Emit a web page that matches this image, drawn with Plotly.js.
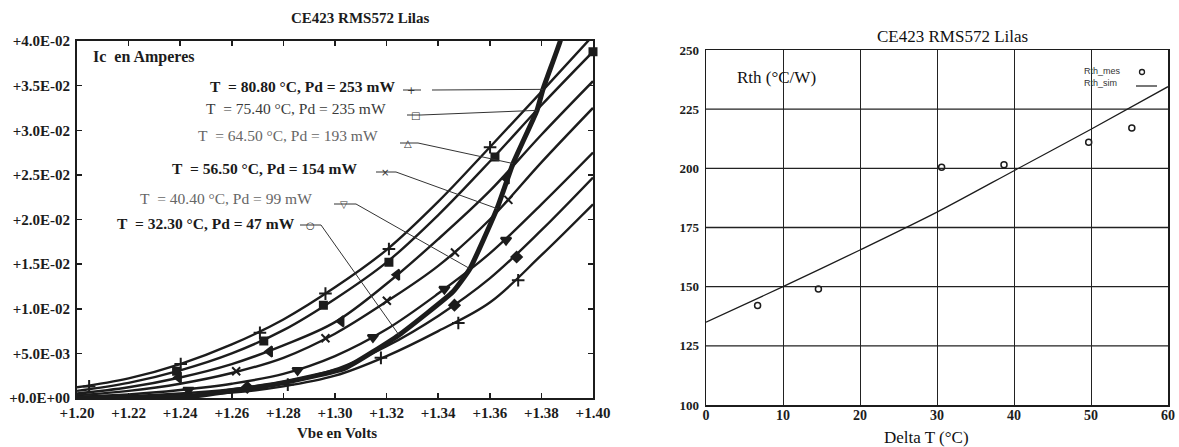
<!DOCTYPE html>
<html><head><meta charset="utf-8">
<script src="https://cdn.plot.ly/plotly-3.0.1.min.js"></script>
<style>html,body{margin:0;padding:0;background:#fff}#chart{width:1179px;height:447px}</style>
</head><body><div id="chart"></div>
<script>
// ---------------- LEFT CHART DATA (Ic vs Vbe) ----------------
const vbeGrid = [1.20, 1.22, 1.24, 1.26, 1.28, 1.30, 1.32, 1.34, 1.36, 1.38, 1.40];
const icT80 = [0.0012, 0.0022, 0.0038, 0.0060, 0.0088, 0.0124, 0.0166, 0.0220, 0.0281, 0.0343, 0.0406];
const icT75 = [0.0008, 0.0017, 0.0031, 0.0050, 0.0076, 0.0111, 0.0152, 0.0205, 0.0265, 0.0328, 0.0388];
const icT64 = [0.0005, 0.0012, 0.0023, 0.0038, 0.0059, 0.0085, 0.0128, 0.0178, 0.0232, 0.0295, 0.0355];
const icT56 = [0.0003, 0.0008, 0.0016, 0.0028, 0.0045, 0.0072, 0.0108, 0.0148, 0.0200, 0.0264, 0.0325];
const icT40 = [0.00015, 0.0004, 0.0009, 0.0016, 0.0027, 0.0047, 0.0077, 0.0117, 0.0162, 0.0217, 0.0275];
const icT32 = [0.0001, 0.0002, 0.0005, 0.0010, 0.0018, 0.0032, 0.0058, 0.0092, 0.0134, 0.0188, 0.0247];
const icTamb = [0.00005, 0.0001, 0.0003, 0.0006, 0.0013, 0.0025, 0.0047, 0.0075, 0.0107, 0.0160, 0.0217];

// marker positions along each curve
const mkT80v = [1.2047, 1.2402, 1.2709, 1.2963, 1.3209, 1.3601];
const mkT80i = [0.0013, 0.0038, 0.0073, 0.0117, 0.0167, 0.0281];
const mkT75v = [1.2386, 1.2724, 1.2955, 1.3209, 1.3620, 1.4000];
const mkT75i = [0.0030, 0.0064, 0.0104, 0.0152, 0.0270, 0.0388];
const mkT64v = [1.2394, 1.2747, 1.3024, 1.3240, 1.3665];
const mkT64i = [0.0023, 0.0052, 0.0086, 0.0138, 0.0246];
const mkT56v = [1.2617, 1.2963, 1.3201, 1.3465, 1.3672];
const mkT56i = [0.0030, 0.0067, 0.0109, 0.0163, 0.0222];
const mkT40v = [1.2432, 1.2855, 1.3147, 1.3424, 1.3663];
const mkT40i = [0.0009, 0.0031, 0.0068, 0.0122, 0.0177];
const mkT32v = [1.2660, 1.3463, 1.3704];
const mkT32i = [0.0012, 0.0104, 0.0158];
const mkTambv = [1.2817, 1.3178, 1.3478, 1.3710];
const mkTambi = [0.0015, 0.0045, 0.0084, 0.0132];

// measured (self-heating) characteristic, thick line
const vbeMeas = [1.200, 1.220, 1.2453, 1.2562, 1.2779, 1.3039, 1.3248, 1.3457, 1.3523, 1.3628, 1.3690, 1.3783, 1.3806, 1.3872, 1.3890];
const icMeas  = [0.0000, 0.00003, 0.00022, 0.00064, 0.0016, 0.00334, 0.00706, 0.0119, 0.01449, 0.02122, 0.02627, 0.03223, 0.03458, 0.0399, 0.0420];

const labelTemps = ['80.80', '75.40', '64.50', '56.50', '40.40', '32.30'];
const labelPd = ['253', '235', '193', '154', '99', '47'];
const labelMeasIdx = [12, 11, 10, 9, 8, 6];

const vbeTicks = [1.20, 1.22, 1.24, 1.26, 1.28, 1.30, 1.32, 1.34, 1.36, 1.38, 1.40];
const vbeTickText = ['+1.20', '+1.22', '+1.24', '+1.26', '+1.28', '+1.30', '+1.32', '+1.34', '+1.36', '+1.38', '+1.40'];
const icTicks = [0, 0.005, 0.010, 0.015, 0.020, 0.025, 0.030, 0.035, 0.040];
const icTickText = ['+0.0E+00', '+5.0E-03', '+1.0E-02', '+1.5E-02', '+2.0E-02', '+2.5E-02', '+3.0E-02', '+3.5E-02', '+4.0E-02'];

// ---------------- RIGHT CHART DATA (Rth vs Delta T) ----------------
const deltaTMes = [6.7, 14.6, 30.6, 38.7, 49.7, 55.3];
const rthMes = [142, 149, 200.5, 201.5, 211, 217];
const deltaTSim = [0, 10, 20, 30, 40, 50, 60];
const rthSim = [135, 150, 165.5, 181.5, 199, 216.5, 234.5];
const deltaTTicks = [0, 10, 20, 30, 40, 50, 60];
const rthTicks = [100, 125, 150, 175, 200, 225, 250];

// ---------------- LAYOUT GEOMETRY ----------------
const W = 1179, H = 447;
const LX0 = 77, LX1 = 593, LY0 = 398, LY1 = 41;
const RX0 = 706, RX1 = 1168, RY0 = 405, RY1 = 50;
const vx = px => 1.20 + (px - LX0) / (LX1 - LX0) * 0.2;
const iy = py => (LY0 - py) / (LY0 - LY1) * 0.04;
const fx = px => px / W;
const fy = py => 1 - py / H;

const SERIF = 'Liberation Serif, Times New Roman, serif';
const INK = '#1c1c1c';

const traces = [];
const curves = [
  [icT80, mkT80v, mkT80i, 'cross-thin-open', 9],
  [icT75, mkT75v, mkT75i, 'square', 7],
  [icT64, mkT64v, mkT64i, 'triangle-left', 9],
  [icT56, mkT56v, mkT56i, 'x-thin-open', 8],
  [icT40, mkT40v, mkT40i, 'triangle-down', 9],
  [icT32, mkT32v, mkT32i, 'diamond', 8],
  [icTamb, mkTambv, mkTambi, 'cross-thin-open', 9]
];
curves.forEach(([ic, mv, mi, sym, sz]) => {
  traces.push({x: vbeGrid, y: ic, xaxis: 'x', yaxis: 'y', mode: 'lines', type: 'scatter',
    line: {color: INK, width: 2.4, shape: 'spline', smoothing: 1}, hoverinfo: 'skip', showlegend: false});
  traces.push({x: mv, y: mi, xaxis: 'x', yaxis: 'y', mode: 'markers', type: 'scatter',
    marker: {symbol: sym, size: sz, color: INK, line: {color: INK, width: 2}}, cliponaxis: false,
    hoverinfo: 'skip', showlegend: false});
});
traces.push({x: vbeMeas, y: icMeas, xaxis: 'x', yaxis: 'y', mode: 'lines', type: 'scatter',
  line: {color: INK, width: 5, shape: 'spline', smoothing: 0.4}, hoverinfo: 'skip', showlegend: false});

traces.push({x: deltaTMes, y: rthMes, xaxis: 'x2', yaxis: 'y2', mode: 'markers', type: 'scatter', name: 'Rth_mes',
  marker: {symbol: 'circle-open', size: 6, color: INK, line: {width: 1.5, color: INK}}, showlegend: false});
traces.push({x: deltaTSim, y: rthSim, xaxis: 'x2', yaxis: 'y2', mode: 'lines', type: 'scatter', name: 'Rth_sim',
  line: {color: INK, width: 1.3, shape: 'spline', smoothing: 0.8}, showlegend: false});

// label decorations (positions in image pixels)
const labelGeom = [
  {right: 397, y: 86, bold: true,  col: '#1a1a1a', sym: '+', symX: 411, lineY: 90,  seg: [403, 421], ptr: 432},
  {right: 388, y: 108, bold: false, col: '#3a3a3a', sym: '□', symX: 415, lineY: 115, seg: [407, 421], ptr: 421},
  {right: 380, y: 136, bold: false, col: '#666',    sym: '△', symX: 408, lineY: 143, seg: [400, 418], ptr: 418},
  {right: 359, y: 168, bold: true,  col: '#1a1a1a', sym: '×', symX: 385, lineY: 172, seg: [376, 396], ptr: 396},
  {right: 314, y: 198, bold: false, col: '#666',    sym: '▽', symX: 344, lineY: 204, seg: [334, 356], ptr: 356},
  {right: 297, y: 223, bold: true,  col: '#1a1a1a', sym: '○', symX: 310, lineY: 225, seg: [300, 321], ptr: 321}
];

const annotations = [];
const shapes = [];
labelGeom.forEach((g, k) => {
  const txt = 'T\u00a0 = ' + labelTemps[k] + ' °C, Pd = ' + labelPd[k] + ' mW';
  annotations.push({xref: 'paper', yref: 'paper', x: fx(g.right), y: fy(g.y), xanchor: 'right', yanchor: 'middle',
    text: g.bold ? '<b>' + txt + '</b>' : txt, showarrow: false,
    font: {family: SERIF, size: 15.5, color: g.col}});
  shapes.push({type: 'line', xref: 'x', yref: 'y', x0: vx(g.seg[0]), x1: vx(g.seg[1]), y0: iy(g.lineY), y1: iy(g.lineY),
    line: {color: '#333', width: 1}});
  const m = labelMeasIdx[k];
  shapes.push({type: 'line', xref: 'x', yref: 'y', x0: vx(g.ptr), y0: iy(g.lineY), x1: vbeMeas[m], y1: icMeas[m],
    line: {color: '#333', width: 1}});
  annotations.push({xref: 'x', yref: 'y', x: vx(g.symX), y: iy(g.lineY), xanchor: 'center', yanchor: 'middle',
    text: g.sym, showarrow: false, font: {family: 'DejaVu Sans', size: 10, color: '#333'}});
});

// horizontal grid of right chart
rthTicks.slice(1, -1).forEach(v => {
  shapes.push({type: 'line', xref: 'paper', yref: 'y2', x0: fx(RX0), x1: fx(RX1), y0: v, y1: v,
    line: {color: '#222', width: 1.4}, layer: 'below'});
});

annotations.push(
  {xref: 'paper', yref: 'paper', x: fx(360), y: fy(18), xanchor: 'center', yanchor: 'middle', showarrow: false,
    text: '<b>CE423 RMS572 Lilas</b>', font: {family: SERIF, size: 15, color: INK}},
  {xref: 'paper', yref: 'paper', x: fx(91), y: fy(57), xanchor: 'left', yanchor: 'middle', showarrow: false,
    text: '<b>Ic\u00a0 en Amperes</b>', font: {family: SERIF, size: 16, color: INK}},
  {xref: 'paper', yref: 'paper', x: fx(337), y: fy(433), xanchor: 'center', yanchor: 'middle', showarrow: false,
    text: '<b>Vbe en Volts</b>', font: {family: SERIF, size: 15, color: INK}},
  {xref: 'paper', yref: 'paper', x: fx(952), y: fy(36), xanchor: 'center', yanchor: 'middle', showarrow: false,
    text: 'CE423 RMS572 Lilas', font: {family: SERIF, size: 17, color: '#111'}},
  {xref: 'paper', yref: 'paper', x: fx(776), y: fy(78), xanchor: 'center', yanchor: 'middle', showarrow: false,
    text: 'Rth (°C/W)', font: {family: SERIF, size: 17, color: '#111'}},
  {xref: 'paper', yref: 'paper', x: fx(926), y: fy(437), xanchor: 'center', yanchor: 'middle', showarrow: false,
    text: 'Delta T (°C)', font: {family: SERIF, size: 17, color: '#111'}},
  {xref: 'paper', yref: 'paper', x: fx(1082), y: fy(71), xanchor: 'left', yanchor: 'middle', showarrow: false,
    text: 'Rth_mes', font: {family: 'Liberation Sans, Arial', size: 9, color: '#333'}},
  {xref: 'paper', yref: 'paper', x: fx(1082), y: fy(83), xanchor: 'left', yanchor: 'middle', showarrow: false,
    text: 'Rth_sim', font: {family: 'Liberation Sans, Arial', size: 9, color: '#333'}}
);
shapes.push(
  {type: 'circle', xref: 'paper', yref: 'paper', x0: fx(1139.5), x1: fx(1144.5), y0: fy(69.5), y1: fy(74.5),
    line: {color: INK, width: 1.3}},
  {type: 'line', xref: 'paper', yref: 'paper', x0: fx(1136), x1: fx(1157), y0: fy(86), y1: fy(86),
    line: {color: INK, width: 1.2}}
);

const layout = {
  width: W, height: H, margin: {l: 0, r: 0, t: 0, b: 0},
  paper_bgcolor: '#fff', plot_bgcolor: '#fff', showlegend: false,
  xaxis: {domain: [fx(LX0), fx(LX1)], range: [1.2, 1.4], tickvals: vbeTicks, ticktext: vbeTickText,
    ticks: 'inside', ticklen: 5, tickwidth: 1.5, tickcolor: INK, showline: true, mirror: 'ticks', linecolor: INK, linewidth: 2,
    showgrid: false, zeroline: false, automargin: false, ticklabelstandoff: 0,
    tickfont: {family: SERIF, size: 15, color: INK, weight: 'bold'}},
  yaxis: {domain: [fy(LY0), fy(LY1)], range: [0, 0.04], tickvals: icTicks, ticktext: icTickText,
    ticks: 'inside', ticklen: 5, tickwidth: 1.5, tickcolor: INK, showline: true, mirror: 'ticks', linecolor: INK, linewidth: 2,
    showgrid: false, zeroline: false, automargin: false, ticklabelstandoff: 2,
    tickfont: {family: SERIF, size: 15, color: INK, weight: 'bold'}},
  xaxis2: {domain: [fx(RX0), fx(RX1)], range: [0, 60], tickvals: deltaTTicks, anchor: 'y2',
    ticks: '', showline: true, mirror: true, linecolor: INK, linewidth: 1.5,
    showgrid: true, gridcolor: '#222', gridwidth: 1, zeroline: false, automargin: false, ticklabelstandoff: -3,
    tickfont: {family: SERIF, size: 14, color: INK, weight: 'bold'}},
  yaxis2: {domain: [fy(RY0), fy(RY1)], range: [100, 250], tickvals: rthTicks, anchor: 'x2',
    ticks: '', showline: true, mirror: true, linecolor: INK, linewidth: 1.5,
    showgrid: false, zeroline: false, automargin: false, ticklabelstandoff: 3,
    tickfont: {family: SERIF, size: 13, color: INK, weight: 'bold'}},
  annotations: annotations,
  shapes: shapes
};

Plotly.newPlot('chart', traces, layout, {staticPlot: true, displayModeBar: false});
</script>
</body></html>
